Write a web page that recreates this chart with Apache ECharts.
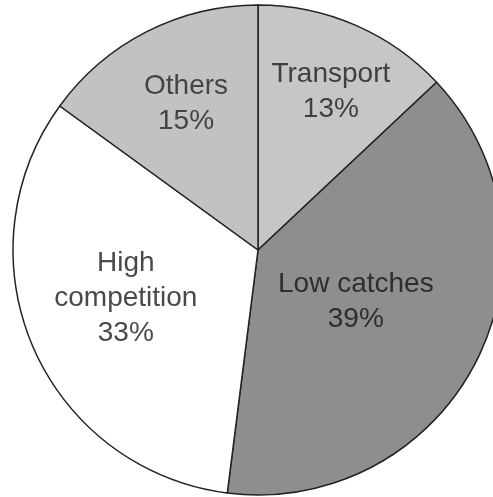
<!DOCTYPE html>
<html><head><meta charset="utf-8">
<script src="https://cdn.jsdelivr.net/npm/echarts@6/dist/echarts.min.js"></script>
<style>html,body{margin:0;padding:0;background:#fff}#c{width:493px;height:497px}</style>
</head><body><div id="c"></div>
<script>
const categories = ['Transport', 'Low catches', 'High competition', 'Others'];
const values = [13, 39, 33, 15];

const colors = {'Transport':'#c6c6c6','Low catches':'#8e8e8e','High competition':'#ffffff','Others':'#c2c2c2'};
const labelOffsets = {'Transport':[23,-43],'Low catches':[-14,-5],'High competition':[-17,-2],'Others':[-15,-34]};
const labelColors = {'Transport':'#404040','Low catches':'#2e2e2e','High competition':'#4a4a4a','Others':'#444444'};

const chart = echarts.init(document.getElementById('c'), null, {renderer:'canvas'});
chart.setOption({
  animation:false,
  series:[{
    type:'pie',
    center:[258,250],
    radius:[0,245],
    startAngle:90,
    clockwise:true,
    avoidLabelOverlap:false,
    itemStyle:{borderColor:'#222',borderWidth:1.5},
    label:{show:true,position:'inside',fontFamily:'Liberation Sans, Arial, sans-serif',fontSize:28,lineHeight:35,
      formatter:p=>p.name.replace(' ','\n')+'\n'+p.value+'%'},
    emphasis:{disabled:true},
    data:categories.map((n,i)=>({name:n,value:values[i],
      itemStyle:{color:colors[n]},
      label:{offset:labelOffsets[n],color:labelColors[n],
        formatter: n==='Low catches' ? (p=>p.name+'\n'+p.value+'%') : (p=>p.name.replace(' ','\n')+'\n'+p.value+'%')}}))
  }]
});
</script></body></html>
